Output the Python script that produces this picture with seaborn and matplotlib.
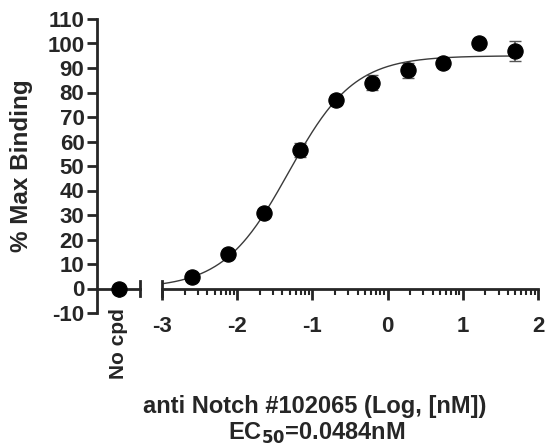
import numpy as np
import pandas as pd
import matplotlib
matplotlib.use("Agg")
import matplotlib.pyplot as plt
import seaborn as sns

# data
log_conc = [-2.60, -2.12, -1.64, -1.16, -0.69, -0.21, 0.27, 0.74, 1.22, 1.70]
binding = [4.5, 14.0, 31.0, 56.5, 77.0, 84.0, 89.0, 92.0, 100.0, 97.0]
sem = [0.8, 1.0, 1.0, 3.0, 2.0, 3.0, 3.0, 1.5, 1.0, 4.0]
nocpd_binding = [0.0]
nocpd_sem = [0.5]

# 4PL fit parameters
bottom, top, ec50, hill = 0.0, 95.0, 0.0484, 1.0

y_ticks = list(range(-10, 111, 10))
x_ticks = [-3, -2, -1, 0, 1, 2]

sns.set_style("ticks")
plt.rcParams['font.family'] = ['Liberation Sans', 'DejaVu Sans']
plt.rcParams['font.weight'] = 'bold'
plt.rcParams['axes.linewidth'] = 2.0
plt.rcParams['axes.unicode_minus'] = False

fig = plt.figure(figsize=(5.45, 4.45), dpi=100)
ax0 = fig.add_axes([97 / 545, 1 - 313 / 445, 43 / 545, 294 / 445])
ax1 = fig.add_axes([162 / 545, 1 - 313 / 445, 376 / 545, 294 / 445])

# left segment: No cpd
ax0.errorbar([0], nocpd_binding, yerr=nocpd_sem, fmt='none', ecolor='#444444',
             capsize=4, elinewidth=1.2)
sns.scatterplot(x=[0], y=nocpd_binding, ax=ax0, color='black', s=120, edgecolor='black', zorder=3)
ax0.set_xlim(-1, 1)
ax0.set_ylim(-10, 110)
ax0.set_yticks(y_ticks)
ax0.set_xticks([0])
ax0.spines['top'].set_visible(False)
ax0.spines['right'].set_bounds(-3, 3)
ax0.spines['bottom'].set_position(('data', 0))
ax0.tick_params(axis='y', length=7, width=2, labelsize=16, pad=2)
ax0.tick_params(axis='x', length=6, width=2, pad=8, labelsize=15, labelrotation=90)
ax0.set_xticklabels(['No cpd'])
ax0.set_ylabel('% Max Binding', fontsize=17.5, fontweight='bold', labelpad=10)

# right segment: dose response
xs = np.linspace(-3, log_conc[-1], 300)
curve = pd.DataFrame({
    'x': xs,
    'y': bottom + (top - bottom) / (1 + 10 ** ((np.log10(ec50) - xs) * hill)),
})
sns.lineplot(data=curve, x='x', y='y', ax=ax1, color='#3a3a3a', lw=1.0)
ax1.errorbar(log_conc, binding, yerr=sem, fmt='none', ecolor='#555555',
             capsize=4, elinewidth=1.2)
sns.scatterplot(x=log_conc, y=binding, ax=ax1, color='black', s=120, edgecolor='black', zorder=3)
ax1.set_xlim(-3, 2)
ax1.set_ylim(-10, 110)
ax1.set_xticks(x_ticks)
minor = [d + np.log10(k) for d in range(-3, 2) for k in range(2, 10)]
ax1.set_xticks(minor, minor=True)
ax1.set_yticks([])
ax1.set_xlabel('')
ax1.set_ylabel('')
ax1.spines['top'].set_visible(False)
ax1.spines['right'].set_visible(False)
ax1.spines['left'].set_bounds(-3, 3)
ax1.spines['bottom'].set_position(('data', 0))
ax1.tick_params(axis='x', which='major', length=8, width=2, labelsize=16, pad=12)
ax1.tick_params(axis='x', which='minor', length=4, width=1.5)

fig.text(315 / 545, 1 - 406 / 445, 'anti Notch #102065 (Log, [nM])', ha='center', va='center',
         fontsize=17, fontweight='bold')
fig.text(317 / 545, 1 - 433 / 445, r'EC$_{\mathbf{50}}$=0.0484nM', ha='center', va='center',
         fontsize=17, fontweight='bold')

fig.savefig('out.png', dpi=100)
